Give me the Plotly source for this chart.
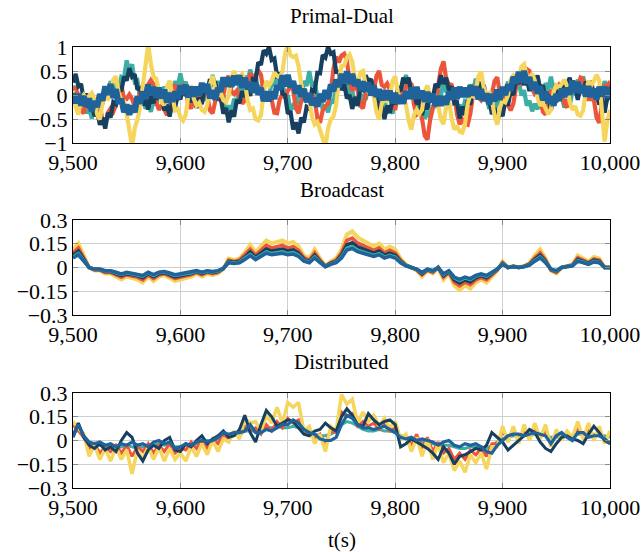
import plotly.graph_objects as go

# ---------------- data ----------------
# Primal-Dual traces are sampled every 2.5 s, the other panels every 5 s
pd_time = [9500 + 2.5 * i for i in range(201)]
time_s = [9500 + 5 * i for i in range(101)]

x_tick_vals = [9500, 9600, 9700, 9800, 9900, 10000]
x_tick_text = ["9,500", "9,600", "9,700", "9,800", "9,900", "10,000"]
y1_tick_vals = [-1, -0.5, 0, 0.5, 1]
y1_tick_text = ["\u22121", "\u22120.5", "0", "0.5", "1"]
y23_tick_vals = [-0.3, -0.15, 0, 0.15, 0.3]
y23_tick_text = ["\u22120.3", "\u22120.15", "0", "0.15", "0.3"]

panel_titles = ["Primal-Dual", "Broadcast", "Distributed"]
x_title = "t(s)"

# Primal-Dual
pd_teal = [0.2,-0.12,-0.02,-0.24,-0.08,-0.38,-0.26,-0.49,-0.3,-0.42,
           -0.12,-0.19,0.12,0.0,0.29,0.07,0.25,0.11,0.38,0.36,
           0.72,0.48,0.64,0.27,0.3,-0.07,-0.02,-0.29,-0.18,-0.35,
           -0.11,-0.21,0.1,-0.07,0.18,-0.09,0.02,-0.05,0.29,0.17,
           0.45,0.16,0.28,0.01,0.12,-0.2,-0.11,-0.26,0.0,-0.12,
           0.18,0.11,0.42,0.15,0.29,-0.06,0.0,-0.32,-0.22,-0.34,
           -0.08,-0.15,0.19,0.09,0.4,0.26,0.53,0.29,0.42,0.1,
           0.19,-0.11,0.0,-0.07,0.28,0.19,0.47,0.18,0.29,-0.06,
           0.0,-0.32,-0.22,-0.29,0.02,-0.05,0.29,0.19,0.5,0.18,
           0.28,-0.04,0.02,-0.3,-0.21,-0.36,-0.1,-0.17,0.18,0.11,
           0.42,0.15,0.29,-0.01,0.1,-0.22,-0.12,-0.24,0.02,-0.1,
           0.19,0.04,0.3,-0.02,0.08,-0.19,-0.08,-0.38,-0.26,-0.39,
           -0.1,-0.17,0.18,0.11,0.42,0.13,0.24,-0.11,-0.05,-0.37,
           -0.27,-0.49,-0.33,-0.48,-0.21,-0.26,0.1,-0.02,0.28,0.06,
           0.22,-0.1,-0.01,-0.31,-0.2,-0.37,-0.12,-0.14,0.22,0.08,
           0.34,0.07,0.2,-0.12,-0.02,-0.29,-0.18,-0.35,-0.11,-0.21,
           0.1,-0.02,0.28,0.16,0.42,0.15,0.29,-0.01,0.1,-0.22,
           -0.12,-0.34,-0.18,-0.3,-0.01,-0.09,0.25,0.11,0.38,0.11,
           0.22,-0.1,-0.01,-0.26,-0.1,-0.22,0.08,0.01,0.32,0.15,
           0.39,0.09,0.2,-0.12,-0.02,-0.14,0.12,0.0,0.29,0.04,
           0.2]
pd_orange = [0.09,0.14,0.0,-0.32,-0.38,-0.14,-0.08,-0.25,-0.21,-0.11,
             -0.2,-0.55,-0.63,-0.37,-0.28,-0.35,-0.21,0.09,0.2,-0.07,
             -0.08,0.01,-0.08,-0.25,-0.21,0.09,0.2,0.08,0.22,0.31,
             0.22,-0.15,-0.31,-0.21,-0.3,-0.42,-0.28,0.06,0.22,0.05,
             0.09,0.19,0.1,-0.22,-0.28,-0.04,0.02,-0.1,-0.01,0.09,
             0.0,-0.32,-0.38,-0.12,-0.03,-0.13,-0.01,0.29,0.4,0.08,
             0.02,0.09,-0.03,-0.18,-0.11,0.27,0.45,0.31,0.42,0.51,
             0.42,0.05,-0.11,-0.01,-0.1,-0.37,-0.38,-0.09,0.02,-0.05,
             0.09,0.19,0.1,-0.27,-0.38,-0.12,-0.03,-0.13,-0.01,0.04,
             -0.1,-0.47,-0.58,-0.32,-0.23,-0.18,0.09,0.54,0.8,0.68,
             0.82,0.86,0.72,0.3,0.09,0.19,0.1,-0.22,-0.28,0.01,
             0.12,0.0,0.09,0.39,0.5,0.21,0.17,0.24,0.12,-0.2,
             -0.31,-0.01,0.1,0.01,0.17,0.29,0.22,-0.2,-0.41,-0.36,
             -0.5,-0.85,-0.93,-0.52,-0.28,-0.15,0.19,0.54,0.7,0.33,
             0.22,0.21,0.02,-0.4,-0.61,-0.51,-0.6,-0.62,-0.38,0.01,
             0.22,-0.05,-0.11,-0.01,-0.1,-0.17,0.02,0.29,0.37,0.03,
             -0.11,-0.06,-0.2,-0.32,-0.18,0.16,0.32,0.25,0.39,0.54,
             0.5,0.13,0.02,0.06,-0.08,-0.35,-0.41,-0.06,0.1,-0.02,
             0.12,0.21,0.12,-0.18,-0.26,0.07,0.2,0.08,0.22,0.36,
             0.32,0.0,-0.11,-0.01,-0.1,-0.47,-0.58,-0.09,0.22,0.15,
             0.29]
pd_navy = [0.26,0.44,0.18,0.23,-0.1,0.03,-0.27,-0.18,-0.44,-0.32,
           -0.62,-0.47,-0.7,-0.37,-0.47,-0.15,-0.19,0.16,0.08,0.38,
           0.3,0.56,0.38,0.43,0.11,0.16,-0.22,-0.07,-0.3,-0.02,
           -0.17,0.05,-0.09,0.01,-0.32,-0.2,-0.45,-0.15,-0.27,0.0,
           -0.09,0.16,-0.02,0.11,-0.15,0.01,-0.27,-0.05,-0.19,0.16,
           0.08,0.33,0.2,0.28,-0.07,-0.05,-0.39,-0.27,-0.57,-0.32,
           -0.45,-0.1,-0.17,0.08,-0.04,0.19,-0.02,0.33,0.3,0.68,
           0.63,0.93,0.86,1.0,0.73,0.76,0.4,0.43,0.03,0.0,
           -0.39,-0.34,-0.72,-0.57,-0.8,-0.47,-0.57,-0.25,-0.29,0.11,
           0.08,0.46,0.45,0.83,0.78,1.0,0.86,0.89,0.48,0.48,
           0.1,0.23,-0.07,0.0,-0.29,-0.04,-0.22,0.13,0.1,0.41,
           0.28,0.33,0.01,0.06,-0.32,-0.22,-0.5,-0.22,-0.37,-0.1,
           -0.19,0.16,0.08,0.36,0.25,0.36,0.03,0.1,-0.19,-0.09,
           -0.42,-0.17,-0.3,0.03,-0.07,0.23,0.16,0.41,0.23,0.36,
           0.1,0.18,-0.17,-0.15,-0.49,-0.24,-0.42,-0.12,-0.2,0.16,
           0.08,0.28,0.11,0.21,-0.12,-0.07,-0.4,-0.27,-0.57,-0.33,
           -0.44,-0.12,-0.22,0.08,0.0,0.33,0.23,0.4,0.21,0.36,
           0.08,0.36,0.25,0.41,0.13,0.2,-0.09,0.01,-0.32,-0.05,
           -0.15,0.16,0.03,0.3,0.21,0.36,0.08,0.18,-0.1,0.18,
           0.03,0.28,0.16,0.29,-0.02,0.08,-0.2,-0.07,-0.37,-0.05,
           -0.09]
pd_yellow = [0.09,-0.25,-0.41,-0.08,0.0,-0.08,-0.02,0.04,-0.11,-0.4,
             -0.51,-0.16,-0.05,-0.08,0.03,0.32,0.39,0.05,-0.11,-0.13,
             -0.4,-0.81,-1.07,-0.69,-0.51,-0.25,0.19,0.75,1.05,0.65,
             0.38,0.34,0.09,-0.15,-0.21,0.17,0.3,-0.08,-0.32,-0.29,
             -0.46,-0.53,-0.41,0.02,0.2,-0.08,-0.22,-0.16,-0.31,-0.35,
             -0.21,0.22,0.4,0.12,-0.02,0.04,-0.11,-0.15,-0.01,0.37,
             0.5,0.37,0.38,0.44,0.29,-0.1,-0.31,-0.28,-0.5,-0.53,
             -0.42,0.04,0.29,0.2,0.29,0.47,0.4,0.37,0.48,0.87,
             1.04,0.83,0.79,0.82,0.6,0.22,-0.02,0.04,-0.11,-0.45,
             -0.61,-0.56,-0.75,-0.98,-1.07,-0.69,-0.51,-0.45,-0.21,0.32,
             0.6,0.62,0.78,0.84,0.69,0.35,0.19,0.47,0.5,0.22,
             0.08,0.14,-0.01,-0.35,-0.51,-0.18,-0.1,-0.13,-0.02,0.29,
             0.39,0.05,-0.11,-0.03,-0.2,-0.53,-0.72,-0.41,-0.31,-0.4,
             -0.31,0.07,0.2,-0.03,-0.12,-0.06,-0.21,-0.5,-0.61,-0.23,
             -0.1,-0.48,-0.72,-0.64,-0.76,-0.78,-0.61,-0.18,0.0,-0.03,
             0.08,0.39,0.49,0.15,-0.01,0.07,-0.1,-0.43,-0.62,-0.26,
             -0.11,-0.15,-0.01,0.32,0.4,0.3,0.33,0.59,0.64,0.4,
             0.34,0.45,0.3,-0.03,-0.22,-0.16,-0.31,-0.4,-0.31,0.07,
             0.2,0.15,0.23,0.32,0.19,-0.15,-0.31,-0.23,-0.4,-0.43,
             -0.32,0.09,0.29,0.2,0.29,0.42,0.3,-0.41,-0.97,-0.54,
             -0.31]
pd_blue = [0.04,-0.17,0.02,-0.22,-0.02,-0.24,-0.07,-0.34,-0.13,-0.25,
           0.02,-0.12,0.18,0.01,0.23,-0.06,0.12,-0.18,-0.08,-0.36,
           -0.2,-0.41,-0.22,-0.36,-0.03,-0.18,0.07,-0.08,0.22,0.0,
           0.17,-0.06,0.15,-0.07,0.11,-0.16,0.04,-0.14,0.07,-0.08,
           0.2,0.01,0.21,-0.05,0.17,-0.03,0.17,-0.01,0.25,0.05,
           0.23,-0.07,0.1,-0.1,0.15,0.07,0.37,0.18,0.37,0.17,
           0.4,0.21,0.41,0.15,0.36,0.12,0.27,0.05,0.25,0.01,
           0.15,-0.13,0.07,-0.13,0.07,-0.08,0.2,0.11,0.41,0.18,
           0.42,0.16,0.29,0.03,0.2,-0.03,0.13,-0.15,0.04,-0.21,
           -0.06,-0.24,0.02,-0.14,0.1,-0.08,0.22,0.08,0.32,0.17,
           0.44,0.27,0.49,0.23,0.44,0.19,0.32,0.09,0.28,0.08,
           0.26,-0.01,0.2,-0.04,0.12,-0.11,0.1,-0.1,0.09,-0.17,
           0.04,-0.18,-0.01,-0.18,0.08,-0.08,0.15,-0.08,0.17,-0.07,
           0.09,-0.14,0.06,-0.15,0.03,-0.23,-0.02,-0.22,-0.03,-0.2,
           0.06,-0.09,0.15,-0.08,0.17,-0.04,0.15,-0.04,0.2,-0.01,
           0.18,-0.09,0.12,-0.12,0.03,-0.19,0.02,-0.13,0.11,-0.1,
           0.17,0.0,0.22,0.09,0.38,0.24,0.48,0.26,0.5,0.24,
           0.37,0.11,0.27,0.03,0.18,-0.11,0.08,-0.17,-0.03,-0.22,
           0.02,-0.12,0.13,-0.04,0.15,0.01,0.3,0.05,0.27,0.04,
           0.2,-0.03,0.18,-0.04,0.13,-0.09,0.17,-0.03,0.17,-0.06,
           0.17]

# Broadcast
bc_blue = [0.06,0.08,0.04,0.0,-0.01,-0.01,-0.02,-0.02,-0.03,-0.04,
           -0.03,-0.035,-0.04,-0.05,-0.03,-0.045,-0.03,-0.025,-0.035,-0.045,
           -0.04,-0.035,-0.03,-0.02,-0.03,-0.02,-0.025,-0.02,-0.005,0.03,
           0.025,0.03,0.05,0.075,0.05,0.07,0.09,0.08,0.085,0.09,
           0.08,0.085,0.07,0.04,0.03,0.06,0.03,0.005,0.02,0.03,
           0.06,0.11,0.12,0.10,0.09,0.08,0.07,0.08,0.06,0.07,
           0.06,0.03,0.01,0.0,-0.01,-0.03,-0.01,-0.02,0.0,-0.04,
           -0.02,-0.06,-0.075,-0.06,-0.07,-0.05,-0.04,-0.05,-0.03,-0.01,
           0.02,0.0,0.005,0.0,0.005,0.015,0.04,0.06,0.03,-0.01,
           -0.02,0.0,0.005,0.01,0.04,0.03,0.02,0.035,0.03,0.0,0.0]
bc_teal = [0.066,0.088,0.044,0.0,-0.011,-0.011,-0.022,-0.022,-0.033,-0.044,
           -0.033,-0.039,-0.044,-0.055,-0.033,-0.05,-0.033,-0.028,-0.039,-0.05,
           -0.044,-0.039,-0.033,-0.022,-0.033,-0.022,-0.028,-0.022,-0.006,0.033,
           0.028,0.033,0.055,0.083,0.055,0.077,0.099,0.088,0.094,0.099,
           0.088,0.094,0.077,0.044,0.033,0.066,0.033,0.006,0.022,0.033,
           0.066,0.121,0.132,0.11,0.099,0.088,0.077,0.088,0.066,0.077,
           0.066,0.033,0.011,0.0,-0.011,-0.033,-0.011,-0.022,0.0,-0.044,
           -0.022,-0.066,-0.083,-0.066,-0.077,-0.055,-0.044,-0.055,-0.033,-0.011,
           0.022,0.0,0.006,0.0,0.006,0.017,0.044,0.066,0.033,-0.011,
           -0.022,0.0,0.006,0.011,0.044,0.033,0.022,0.039,0.033,0.0,0.0]
bc_navy = [0.078,0.104,0.052,0.0,-0.013,-0.013,-0.026,-0.026,-0.039,-0.052,
           -0.039,-0.046,-0.052,-0.065,-0.039,-0.059,-0.039,-0.033,-0.046,-0.059,
           -0.052,-0.046,-0.039,-0.026,-0.039,-0.026,-0.033,-0.026,-0.007,0.039,
           0.033,0.039,0.065,0.098,0.065,0.091,0.117,0.104,0.111,0.117,
           0.104,0.111,0.091,0.052,0.039,0.078,0.039,0.007,0.026,0.039,
           0.078,0.143,0.156,0.13,0.117,0.104,0.091,0.104,0.078,0.091,
           0.078,0.039,0.013,0.0,-0.013,-0.039,-0.013,-0.026,0.0,-0.052,
           -0.026,-0.078,-0.098,-0.078,-0.091,-0.065,-0.052,-0.065,-0.039,-0.013,
           0.026,0.0,0.007,0.0,0.007,0.02,0.052,0.078,0.039,-0.013,
           -0.026,0.0,0.007,0.013,0.052,0.039,0.026,0.046,0.039,0.0,0.0]
bc_orange = [0.093,0.124,0.062,0.0,-0.016,-0.016,-0.031,-0.031,-0.047,-0.062,
             -0.047,-0.054,-0.062,-0.078,-0.047,-0.07,-0.047,-0.039,-0.054,-0.07,
             -0.062,-0.054,-0.047,-0.031,-0.047,-0.031,-0.039,-0.031,-0.008,0.047,
             0.039,0.047,0.078,0.116,0.078,0.109,0.14,0.124,0.132,0.14,
             0.124,0.132,0.109,0.062,0.047,0.093,0.047,0.008,0.031,0.047,
             0.093,0.171,0.186,0.155,0.14,0.124,0.109,0.124,0.093,0.109,
             0.093,0.047,0.016,0.0,-0.016,-0.047,-0.016,-0.031,0.0,-0.062,
             -0.031,-0.093,-0.116,-0.093,-0.109,-0.078,-0.062,-0.078,-0.047,-0.016,
             0.031,0.0,0.008,0.0,0.008,0.023,0.062,0.093,0.047,-0.016,
             -0.031,0.0,0.008,0.016,0.062,0.047,0.031,0.054,0.047,0.0,0.0]
bc_yellow = [0.114,0.152,0.076,0.0,-0.019,-0.019,-0.038,-0.038,-0.057,-0.076,
             -0.057,-0.067,-0.076,-0.095,-0.057,-0.086,-0.057,-0.048,-0.067,-0.086,
             -0.076,-0.067,-0.057,-0.038,-0.057,-0.038,-0.048,-0.038,-0.01,0.057,
             0.048,0.057,0.095,0.143,0.095,0.133,0.171,0.152,0.162,0.171,
             0.152,0.162,0.133,0.076,0.057,0.114,0.057,0.01,0.038,0.057,
             0.114,0.209,0.228,0.19,0.171,0.152,0.133,0.152,0.114,0.133,
             0.114,0.057,0.019,0.0,-0.019,-0.057,-0.019,-0.038,0.0,-0.076,
             -0.038,-0.114,-0.143,-0.114,-0.133,-0.095,-0.076,-0.095,-0.057,-0.019,
             0.038,0.0,0.01,0.0,0.01,0.029,0.076,0.114,0.057,-0.019,
             -0.038,0.0,0.01,0.019,0.076,0.057,0.038,0.067,0.057,0.0,0.0]

# Distributed
ds_teal = [0.04,0.08,0.02,-0.02,-0.03,-0.03,-0.04,-0.04,-0.05,-0.04,
           -0.03,-0.04,-0.05,-0.04,-0.03,-0.03,-0.02,-0.03,-0.02,-0.04,
           -0.04,-0.03,-0.02,-0.02,-0.01,0.0,0.0,0.01,0.03,0.03,
           0.04,0.04,0.06,0.06,0.06,0.07,0.08,0.08,0.09,0.08,
           0.08,0.09,0.08,0.06,0.05,0.04,0.03,0.03,0.04,0.06,
           0.1,0.12,0.11,0.09,0.07,0.06,0.06,0.07,0.06,0.06,
           0.05,0.03,0.02,0.01,0.0,-0.01,-0.01,-0.02,-0.03,-0.03,
           -0.03,-0.04,-0.05,-0.05,-0.04,-0.04,-0.04,-0.05,-0.03,-0.01,
           0.01,0.02,0.03,0.03,0.04,0.04,0.04,0.04,0.03,0.02,
           0.02,0.03,0.03,0.03,0.04,0.04,0.04,0.04,0.03,0.03,0.02]
ds_orange = [0.1,0.06,0.02,-0.05,-0.02,-0.08,-0.04,-0.07,-0.03,-0.08,
             -0.03,-0.1,-0.04,-0.07,-0.02,-0.08,-0.03,-0.07,-0.02,-0.08,
             -0.05,-0.06,-0.01,-0.05,0.0,-0.05,0.01,-0.02,0.04,0.01,
             0.05,0.02,0.09,0.06,0.08,0.04,0.1,0.06,0.12,0.08,
             0.14,0.11,0.13,0.05,0.06,0.01,0.04,-0.02,0.06,0.05,
             0.18,0.15,0.17,0.09,0.12,0.09,0.11,0.07,0.1,0.06,
             0.08,0.01,0.03,-0.03,0.04,-0.05,0.02,-0.07,-0.01,-0.08,
             -0.05,-0.12,-0.08,-0.12,-0.06,-0.09,-0.05,-0.1,-0.02,-0.02,
             0.06,0.0,0.06,0.0,0.07,0.01,0.07,0.02,0.06,-0.02,
             0.05,0.01,0.04,0.02,0.08,0.02,0.07,0.01,0.06,0.0,0.04]
ds_yellow = [0.12,0.08,0.04,-0.1,-0.03,-0.12,-0.05,-0.13,-0.04,-0.12,
             -0.06,-0.21,-0.06,-0.12,-0.04,-0.12,-0.04,-0.13,-0.05,-0.12,
             -0.08,-0.13,-0.04,-0.1,-0.02,-0.09,0.0,-0.07,0.01,-0.01,
             0.06,0.01,0.14,0.11,0.12,0.06,0.16,0.11,0.21,0.11,
             0.24,0.21,0.24,0.06,0.09,-0.02,0.04,-0.07,0.09,0.06,
             0.29,0.23,0.26,0.11,0.18,0.12,0.16,0.09,0.14,0.08,
             0.12,0.01,0.04,-0.07,0.02,-0.1,0.01,-0.12,-0.02,-0.14,
             -0.08,-0.19,-0.13,-0.2,-0.09,-0.14,-0.08,-0.18,-0.04,-0.04,
             0.09,-0.01,0.09,-0.02,0.1,0.0,0.11,0.01,0.1,-0.04,
             0.07,0.0,0.06,0.02,0.12,0.01,0.11,0.0,0.09,-0.02,0.06]
ds_navy = [0.03,0.11,0.02,-0.03,-0.05,-0.02,-0.06,-0.04,-0.07,0.0,
           0.05,0.02,-0.08,-0.13,-0.06,-0.03,-0.05,0.0,0.02,-0.06,
           -0.07,-0.02,-0.04,0.0,0.03,-0.02,0.01,0.03,0.06,0.02,
           0.03,0.07,0.16,0.05,-0.01,0.1,0.19,0.15,0.09,0.11,
           0.13,0.12,0.08,0.04,0.03,0.06,0.07,0.11,0.08,0.06,
           0.15,0.2,0.16,0.1,0.09,0.17,0.13,0.1,0.12,0.13,
           0.1,-0.04,-0.02,0.01,-0.01,-0.03,-0.05,-0.08,-0.12,-0.04,
           -0.08,-0.15,-0.1,-0.09,-0.07,-0.05,-0.06,-0.03,0.05,0.02,
           -0.01,-0.06,-0.03,0.0,0.03,0.07,0.05,-0.01,-0.05,-0.07,
           -0.02,0.02,0.03,0.01,0.0,-0.02,0.04,0.09,0.05,0.0,-0.02]
ds_blue = [0.02,0.1,0.03,-0.01,-0.02,-0.01,-0.03,-0.02,-0.04,-0.02,
           -0.03,-0.01,-0.03,-0.02,-0.04,-0.01,0.0,-0.02,-0.01,-0.05,
           -0.04,-0.02,-0.03,-0.01,0.0,-0.01,0.0,0.02,0.05,0.04,
           0.05,0.05,0.06,0.1,0.05,0.05,0.07,0.06,0.08,0.1,
           0.1,0.13,0.11,0.07,0.05,0.04,0.01,0.0,0.0,0.02,
           0.1,0.16,0.14,0.1,0.08,0.08,0.07,0.08,0.09,0.07,
           0.05,0.02,0.01,0.02,0.0,0.01,0.0,-0.01,-0.03,-0.01,
           0.0,-0.03,-0.04,-0.02,-0.03,-0.02,-0.04,-0.07,-0.08,-0.03,
           0.0,0.03,0.04,0.04,0.03,0.04,0.05,0.04,0.03,-0.02,
           0.03,0.05,0.02,0.0,0.05,0.05,0.02,0.03,0.03,0.01,-0.02]

# colours
c_navy = "#173F5F"
c_blue = "#20639B"
c_teal = "#3CAEA3"
c_yellow = "#F6D55C"
c_orange = "#ED553B"

# ---------------- figure ----------------
W, H = 643, 552
fig = go.Figure()

panels = [
    ("", pd_time, [(pd_teal, c_teal, 4.2), (pd_orange, c_orange, 4.2),
                   (pd_navy, c_navy, 4.2), (pd_yellow, c_yellow, 4.2),
                   (pd_blue, c_blue, 6)]),
    ("2", time_s, [(bc_yellow, c_yellow, 4), (bc_orange, c_orange, 3.5),
                   (bc_navy, c_navy, 3.5), (bc_teal, c_teal, 3.5),
                   (bc_blue, c_blue, 3.5)]),
    ("3", time_s, [(ds_teal, c_teal, 3), (ds_orange, c_orange, 3),
                   (ds_yellow, c_yellow, 3.5), (ds_navy, c_navy, 3),
                   (ds_blue, c_blue, 3.2)]),
]
for suf, tx, series in panels:
    for vals, col, lw in series:
        fig.add_trace(go.Scatter(
            x=tx, y=vals, mode="lines",
            line=dict(color=col, width=lw),
            xaxis="x" + suf, yaxis="y" + suf, showlegend=False,
            hoverinfo="skip"))

x0, x1 = 73 / W, 610 / W
tops = [47, 220, 393]
bots = [143, 315, 488]
font_fam = "Liberation Serif, Times New Roman, serif"

axis_common = dict(
    showline=True, linecolor="black", linewidth=1, mirror="ticks",
    ticks="inside", ticklen=5, tickcolor="#8a8a8a", tickwidth=1.2,
    showgrid=True, gridcolor="#cfcfcf", gridwidth=1, zeroline=False,
    automargin=False,
    tickfont=dict(family=font_fam, size=22, color="black"),
)

layout = dict(
    width=W, height=H, margin=dict(l=0, r=0, t=0, b=0, autoexpand=False),
    paper_bgcolor="white", plot_bgcolor="white",
    font=dict(family=font_fam, color="black"),
    showlegend=False,
)
for i, suf in enumerate(["", "2", "3"]):
    yd = [1 - bots[i] / H, 1 - tops[i] / H]
    layout["xaxis" + suf] = dict(
        axis_common, domain=[x0, x1], anchor="y" + suf,
        range=[9500, 10000], tickvals=x_tick_vals, ticktext=x_tick_text)
    if i == 0:
        yt, ytt, yr = y1_tick_vals, y1_tick_text, [-1, 1]
    else:
        yt, ytt, yr = y23_tick_vals, y23_tick_text, [-0.3, 0.3]
    layout["yaxis" + suf] = dict(
        axis_common, domain=yd, anchor="x" + suf, range=yr,
        tickvals=yt, ticktext=ytt)

title_y = [16, 190, 362]
annotations = []
for i, txt in enumerate(panel_titles):
    annotations.append(dict(
        text=txt, x=(x0 + x1) / 2, y=1 - title_y[i] / H,
        xref="paper", yref="paper", showarrow=False,
        xanchor="center", yanchor="middle",
        font=dict(family=font_fam, size=21, color="black")))
annotations.append(dict(
    text=x_title, x=(x0 + x1) / 2, y=1 - 540 / H,
    xref="paper", yref="paper", showarrow=False,
    xanchor="center", yanchor="middle",
    font=dict(family=font_fam, size=21, color="black")))
layout["annotations"] = annotations

fig.update_layout(**layout)
fig.write_html("out.html",
               config={"displayModeBar": False},
               post_script="document.body.style.margin='0';")
